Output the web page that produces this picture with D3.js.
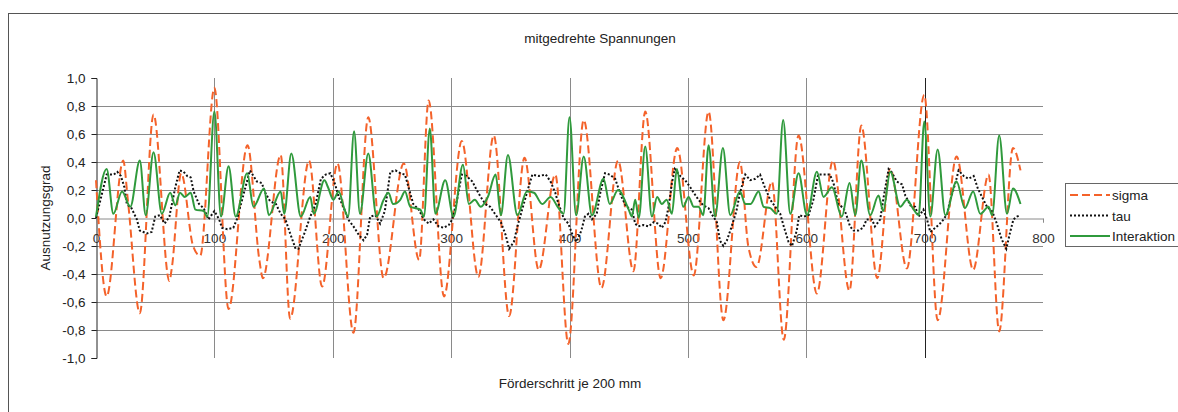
<!DOCTYPE html>
<html>
<head>
<meta charset="utf-8">
<script src="https://cdn.jsdelivr.net/npm/d3@7"></script>
<style>
  body { margin: 0; background: #fff; }
  svg { font-family: "Liberation Sans", Arial, sans-serif; }
</style>
</head>
<body>
<div id="chart"></div>
<script>
const w = 1178;
const h = 412;

const title = "mitgedrehte Spannungen";
const xTitle = "Förderschritt je 200 mm";
const yTitle = "Ausnutzungsgrad";
const seriesNames = ["sigma", "tau", "Interaktion"];
const xTicks = [0, 100, 200, 300, 400, 500, 600, 700, 800];
const yTicks = [-1, -0.8, -0.6, -0.4, -0.2, 0, 0.2, 0.4, 0.6, 0.8, 1];
const yGrid = [-0.8, -0.6, -0.4, -0.2, 0.2, 0.4, 0.6, 0.8];
const xGrid = [100, 200, 300, 400, 500, 600, 700];

// values: [Förderschritt, Ausnutzungsgrad]
const sigma = [[0,0.27],[9,-0.56],[23,0.41],[27,0.12],[37,-0.68],[48.6,0.74],[62,-0.45],[64,-0.36],[72,0.32],[82,-0.2],[88,-0.27],[100,0.93],[112,-0.65],[128,0.52],[138,-0.3],[141,-0.43],[156,0.45],[164,-0.72],[180,0.41],[191,-0.49],[204,0.39],[217.5,-0.82],[230,0.72],[243,-0.43],[260,0.39],[273,-0.30],[281,0.84],[294,-0.56],[309,0.55],[323,-0.42],[336,0.59],[349,-0.70],[362,0.43],[374,-0.37],[388,0.31],[399,-0.90],[412,0.70],[427,-0.50],[441,0.41],[454,-0.38],[464,0.76],[477,-0.43],[491,0.50],[505,-0.41],[517.5,0.76],[530,-0.73],[544,0.40],[551,-0.2],[558,-0.35],[571,0.26],[581,-0.87],[593.5,0.59],[609,-0.54],[622.5,0.41],[636.5,-0.52],[646.5,0.66],[660,-0.43],[671,0.35],[685,-0.36],[699.7,0.88],[711,-0.73],[727,0.44],[741,-0.37],[754,0.31],[763,-0.81],[774.6,0.50],[781,0.34]];

const tau = [[0,0.0],[9,0.31],[15,0.31],[18,0.33],[21,0.30],[24,0.22],[26,0.10],[30,0.07],[34.5,-0.01],[37,-0.09],[43,-0.11],[47,-0.10],[50,0.01],[54,0.02],[58,-0.04],[62,0.01],[67,0.22],[70.6,0.34],[74,0.33],[77,0.30],[80,0.29],[82.5,0.19],[87,0.10],[91,0.07],[95,-0.01],[100,0.05],[104,-0.01],[106.5,-0.07],[111,-0.08],[116,-0.07],[119,-0.01],[125,0.18],[130,0.34],[133,0.30],[136,0.26],[140,0.25],[143,0.18],[147,0.12],[152,0.10],[156,0.03],[160,-0.01],[164,-0.11],[168.6,-0.22],[171,-0.22],[176,-0.11],[181,0.01],[185.6,0.10],[190,0.28],[194,0.31],[198,0.32],[202,0.24],[205,0.15],[209,0.08],[213,-0.01],[217.5,-0.06],[222,-0.12],[226,-0.16],[229,-0.12],[231.6,0.01],[236,0.02],[240,-0.04],[244,0.05],[248.6,0.33],[253,0.34],[257,0.32],[261,0.31],[264,0.22],[268,0.10],[272.6,0.06],[277,-0.01],[281,-0.04],[285,-0.01],[289.5,-0.06],[293.8,-0.07],[298,-0.05],[301,-0.01],[305,0.13],[309,0.31],[313,0.30],[318,0.26],[321,0.21],[325,0.15],[329,0.10],[333,0.08],[337,0.03],[342,-0.03],[346,-0.12],[349,-0.22],[353,-0.17],[356,-0.06],[360,0.06],[364,0.18],[368.6,0.31],[374,0.30],[380,0.31],[384,0.26],[388,0.18],[390,0.12],[395,0.0],[399,-0.04],[403,-0.13],[406,-0.17],[410,-0.09],[413,0.01],[416,0.03],[419,-0.01],[423,0.03],[426,0.18],[430,0.32],[434,0.31],[438.6,0.28],[441,0.22],[444,0.15],[448,0.08],[452.7,0.06],[455.5,-0.04],[458,-0.06],[462.5,-0.05],[466.8,-0.06],[471,-0.03],[475,-0.04],[478,-0.07],[481,-0.03],[483.7,0.08],[486.5,0.25],[489,0.35],[493.5,0.30],[497.7,0.27],[502,0.22],[505,0.18],[509,0.13],[513,0.09],[517.5,0.07],[520,0.03],[524.5,-0.03],[527,-0.16],[530,-0.20],[533,-0.16],[537,-0.06],[541,0.05],[544,0.18],[548.5,0.31],[552.7,0.27],[557,0.28],[561,0.31],[565,0.22],[569.6,0.13],[573.8,0.08],[578,0.03],[581,-0.06],[585,-0.17],[588,-0.20],[592,-0.09],[594,0.02],[598,0.01],[602,0.02],[606,0.13],[610,0.31],[614.6,0.31],[620,0.31],[623,0.25],[627,0.10],[631.5,0.07],[634,0.02],[637,-0.06],[640,-0.09],[644,-0.09],[648,-0.07],[651,-0.01],[655.5,-0.01],[658,-0.06],[662.5,-0.01],[665,0.13],[669.6,0.35],[672,0.33],[676.6,0.26],[681,0.24],[683.7,0.16],[688,0.09],[692,0.08],[695,0.01],[699,0.06],[702,-0.01],[704.8,-0.10],[709,-0.07],[713,-0.04],[716,-0.01],[719,0.03],[721.7,0.13],[726,0.25],[728.7,0.34],[733,0.30],[737,0.28],[741.4,0.30],[745,0.21],[748.5,0.15],[752.7,0.08],[757,0.05],[761,-0.04],[765,-0.15],[769,-0.22],[772,-0.11],[775,-0.01],[778,0.01],[781,0.02]];

const interaktion = [[0,0.01],[9,0.35],[14.7,0.03],[22,0.19],[29,0.08],[37,0.41],[42,0.02],[48.6,0.47],[55.6,0.03],[62.7,0.18],[67,0.09],[71,0.18],[75,0.15],[80,0.18],[84,0.06],[91,0.05],[94,0.01],[100,0.76],[105.6,0.01],[112,0.37],[118,0.01],[127.7,0.32],[133,0.08],[142,0.21],[146,0.02],[156,0.19],[159,0.03],[165,0.46],[173,0.01],[181,0.15],[184,0.03],[193,0.27],[196,0.22],[200.5,0.13],[205,0.19],[210,0.06],[213,0.01],[218,0.62],[223,0.03],[230,0.46],[237,0.01],[243,0.13],[247,0.18],[251,0.10],[257,0.13],[261,0.19],[265.5,0.08],[270,0.07],[274,0.06],[277,0.01],[282,0.64],[286.7,0.03],[295,0.27],[302,0.01],[310,0.38],[315,0.10],[320,0.13],[325,0.08],[331,0.15],[337.6,0.31],[342,0.02],[348,0.45],[356,0.02],[364,0.19],[370,0.18],[377,0.10],[384,0.15],[390,0.08],[395,0.03],[400,0.72],[405.6,0.02],[412,0.44],[419,0.02],[428.7,0.28],[434,0.10],[441,0.20],[450,0.06],[452.7,0.01],[455.5,0.13],[458.5,0.0],[464,0.51],[469.6,0.01],[474,0.15],[478,0.10],[482,0.13],[486.5,0.03],[490.7,0.35],[496,0.08],[500.6,0.15],[505,0.08],[509,0.08],[513,0.02],[517.5,0.52],[523,0.01],[529.6,0.50],[535.8,0.02],[544,0.19],[548.5,0.10],[553,0.10],[559.7,0.19],[564,0.08],[569.6,0.07],[575,0.03],[580.5,0.70],[586.5,0.03],[593.5,0.32],[600.6,0.02],[609,0.33],[614.6,0.15],[621.7,0.22],[630,0.01],[636.6,0.25],[641.4,0.02],[646.5,0.41],[654,0.02],[661,0.16],[665,0.05],[671,0.33],[679.4,0.08],[685,0.13],[690,0.07],[695,0.02],[699.7,0.69],[704.8,0.01],[711,0.49],[717.5,0.02],[727,0.26],[734,0.07],[741,0.19],[747,0.03],[754,0.08],[757,0.02],[763,0.59],[769.6,0.03],[774.6,0.21],[781,0.10]];

const colors = ["#f4622a", "#111111", "#2f9a3c"];
const dashes = ["8,4", "2,2", null];

const plotLeft = 96, plotRight = 1043, plotTop = 78, plotBottom = 358;

let svg = d3.select("#chart").append("svg")
    .attr("width", w)
    .attr("height", h);

// outer chart frame (runs off the picture right and bottom)
svg.append("rect")
    .attr("x", 8.5).attr("y", 13.5)
    .attr("width", 1250).attr("height", 500)
    .attr("fill", "#fff")
    .attr("stroke", "#555");

let xScale = d3.scaleLinear().domain([0, 800]).range([plotLeft, plotRight]);
let yScale = d3.scaleLinear().domain([-1, 1]).range([plotBottom, plotTop]);

// gridlines
svg.append("g").selectAll("line").data(yGrid).join("line")
    .attr("x1", plotLeft).attr("x2", plotRight)
    .attr("y1", d => Math.round(yScale(d)) + 0.5)
    .attr("y2", d => Math.round(yScale(d)) + 0.5)
    .attr("stroke", "#8a8a8a");

svg.append("g").selectAll("line").data(xGrid).join("line")
    .attr("x1", d => Math.round(xScale(d)) + 0.5)
    .attr("x2", d => Math.round(xScale(d)) + 0.5)
    .attr("y1", plotTop).attr("y2", plotBottom)
    .attr("stroke", d => d === 700 ? "#222" : "#8a8a8a");

// axes
let yAxis = svg.append("g")
    .attr("transform", "translate(" + (plotLeft + 0.5) + ",0)")
    .call(d3.axisLeft(yScale)
        .tickValues(yTicks)
        .tickSizeOuter(0)
        .tickSize(5)
        .tickPadding(6)
        .tickFormat(d => d.toFixed(1).replace(".", ",")));
yAxis.selectAll("text").style("font-size", "13.5px").attr("fill", "#222");
yAxis.select(".domain").attr("stroke", "#222");
yAxis.selectAll(".tick line").attr("stroke", "#222");

let xAxis = svg.append("g")
    .attr("transform", "translate(0," + (Math.round(yScale(0)) + 0.5) + ")")
    .call(d3.axisBottom(xScale)
        .tickValues(xTicks)
        .tickSizeOuter(0)
        .tickSize(4)
        .tickPadding(11));
xAxis.selectAll("text").style("font-size", "13.5px").attr("fill", "#333");
xAxis.select(".domain").attr("stroke", "#8a8a8a");
xAxis.selectAll(".tick line").attr("stroke", "#8a8a8a");

// series
let smooth = d3.line()
    .x(d => xScale(d[0]))
    .y(d => yScale(d[1]))
    .curve(d3.curveMonotoneX);

let straight = d3.line()
    .x(d => xScale(d[0]))
    .y(d => yScale(d[1]));

let allSeries = [sigma, tau, interaktion];
allSeries.forEach((s, i) => {
    svg.append("path")
        .attr("d", i === 1 ? straight(s) : smooth(s))
        .attr("fill", "none")
        .attr("stroke", colors[i])
        .attr("stroke-width", 2)
        .attr("stroke-dasharray", dashes[i]);
});

// titles
svg.append("text")
    .attr("x", 600).attr("y", 43)
    .attr("text-anchor", "middle")
    .style("font-size", "13.5px").attr("fill", "#222")
    .text(title);

svg.append("text")
    .attr("x", 570).attr("y", 388)
    .attr("text-anchor", "middle")
    .style("font-size", "13.5px").attr("fill", "#222")
    .text(xTitle);

svg.append("text")
    .attr("transform", "translate(50,218) rotate(-90)")
    .attr("text-anchor", "middle")
    .style("font-size", "13.5px").attr("fill", "#222")
    .text(yTitle);

// legend
let legend = svg.append("g").attr("transform", "translate(1065,183)");
legend.append("rect")
    .attr("x", 0.5).attr("y", 0.5)
    .attr("width", 150).attr("height", 63)
    .attr("fill", "#fff")
    .attr("stroke", "#666");

seriesNames.forEach((name, i) => {
    let yy = 12 + i * 20.5;
    legend.append("line")
        .attr("x1", 5).attr("x2", 45)
        .attr("y1", yy).attr("y2", yy)
        .attr("stroke", colors[i])
        .attr("stroke-width", 2)
        .attr("stroke-dasharray", dashes[i]);
    legend.append("text")
        .attr("x", 47).attr("y", yy + 5)
        .style("font-size", "13.5px").attr("fill", "#222")
        .text(name);
});
</script>
</body>
</html>
